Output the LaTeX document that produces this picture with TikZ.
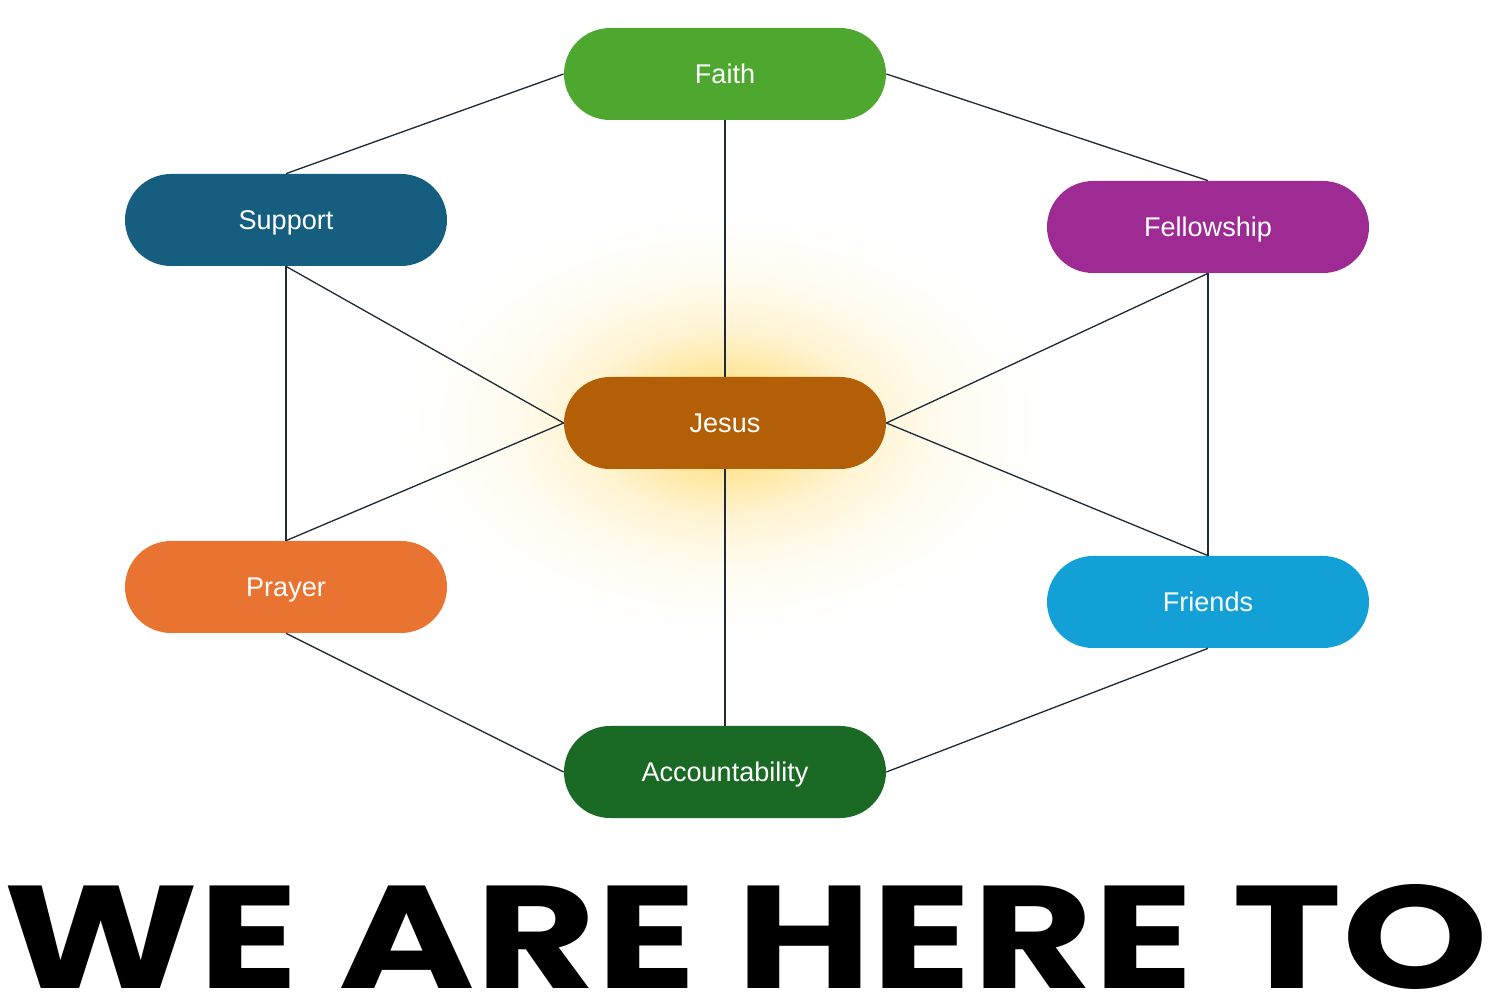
\documentclass[tikz,border=0pt]{standalone}
\usepackage{fontspec}
\setmainfont{Liberation Sans}
\newfontfamily\headfont{Poppins}
\usetikzlibrary{shapes.misc,positioning}
\usepackage{xcolor}
\definecolor{faithgreen}{RGB}{78,167,46}
\definecolor{supportblue}{RGB}{22,94,128}
\definecolor{fellowpurple}{RGB}{157,43,147}
\definecolor{jesusbrown}{RGB}{179,95,8}
\definecolor{prayerorange}{RGB}{233,116,50}
\definecolor{friendsblue}{RGB}{18,160,215}
\definecolor{accountgreen}{RGB}{26,106,37}
\definecolor{linkgray}{RGB}{30,42,56}
\definecolor{glowyellow}{RGB}{255,226,140}
\pgfdeclareradialshading{jesusglow}{\pgfpoint{0bp}{0bp}}{color(0bp)=(glowyellow); color(6bp)=(glowyellow!85!white); color(11bp)=(glowyellow!40!white); color(17bp)=(glowyellow!14!white); color(25bp)=(white); color(50bp)=(white)}

\begin{document}
\begin{tikzpicture}[
    pill/.style={rounded rectangle, minimum width=6.44cm, minimum height=1.84cm,
        inner sep=0pt, text height=11pt, text depth=0pt, text=white,
        font=\fontsize{15.4pt}{18pt}\selectfont},
    link/.style={draw=linkgray, line width=0.75pt}
]
    \useasboundingbox (0,0) rectangle (29.84,20.14);

    % Glow behind the centre
    \shade[shading=jesusglow] (14.5,11.68) ellipse (6.4cm and 4.2cm);

    % Nodes
    \node[pill, fill=faithgreen] (faith) at (14.5,18.66) {Faith};
    \node[pill, fill=supportblue] (support) at (5.72,15.74) {Support};
    \node[pill, fill=fellowpurple] (fellowship) at (24.16,15.6) {Fellowship};
    \node[pill, fill=jesusbrown] (jesus) at (14.5,11.68) {Jesus};
    \node[pill, fill=prayerorange] (prayer) at (5.72,8.4) {Prayer};
    \node[pill, fill=friendsblue] (friends) at (24.16,8.1) {Friends};
    \node[pill, fill=accountgreen] (account) at (14.5,4.7) {Accountability};

    % Outer ring
    \draw[link] (faith.west) -- (support.north);
    \draw[link] (faith.east) -- (fellowship.north);
    \draw[link] (support.south) -- (prayer.north);
    \draw[link] (fellowship.south) -- (friends.north);
    \draw[link] (prayer.south) -- (account.west);
    \draw[link] (friends.south) -- (account.east);

    % Spokes to the centre
    \draw[link] (faith.south) -- (jesus.north);
    \draw[link] (account.north) -- (jesus.south);
    \draw[link] (support.south) -- (jesus.west);
    \draw[link] (prayer.north) -- (jesus.west);
    \draw[link] (fellowship.south) -- (jesus.east);
    \draw[link] (friends.north) -- (jesus.east);

    % Headline
    \node[anchor=base, inner sep=0pt] (headline) at (14.92,0.36)
        {\resizebox{29.7cm}{2.08cm}{\headfont\bfseries WE ARE HERE TO}};
\end{tikzpicture}
\end{document}
